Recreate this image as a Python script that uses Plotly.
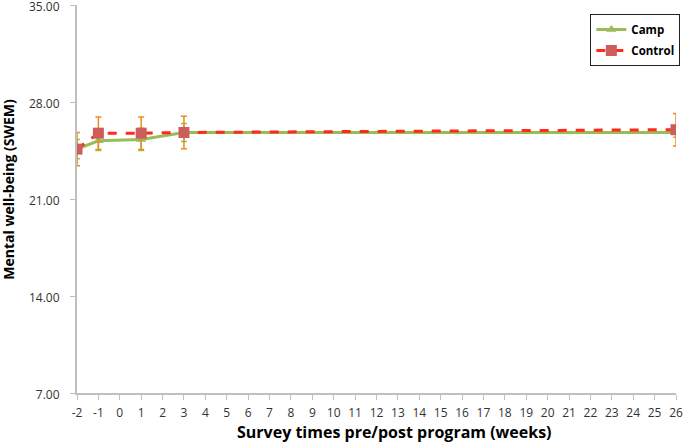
import plotly.graph_objects as go

# survey times (weeks) and SWEM means
weeks = [-2, -1, 1, 3, 26]
camp_mean = [24.6, 25.2, 25.3, 25.8, 25.8]
camp_err = [0.7, 0.7, 0.8, 0.65, 0.35]
control_mean = [24.6, 25.75, 25.75, 25.8, 26.0]
control_err = [1.2, 1.17, 1.17, 1.17, 1.17]

x_ticks = list(range(-2, 27))
y_ticks = [7, 14, 21, 28, 35]

X_TITLE = 'Survey times pre/post program (weeks)'
Y_TITLE = 'Mental well-being (SWEM)'

FONT = '"Open Sans", Lato, Arial, sans-serif'

fig = go.Figure()

fig.add_trace(go.Scatter(
    x=weeks, y=camp_mean, name='Camp', mode='lines+markers', legendgroup='camp',
    line=dict(color='#9BBB59', width=3),
    marker=dict(symbol='triangle-up', size=9, color='#9BBB59'),
    error_y=dict(type='data', array=camp_err, color='#9BBB59', thickness=1.5, width=3),
))
fig.add_trace(go.Scatter(
    x=weeks, y=control_mean, name='Control', mode='lines+markers', legendgroup='control',
    line=dict(color='#FF2A1A', width=3, dash='dash'),
    marker=dict(symbol='square', size=11, color='#CD5C5C'),
    error_y=dict(type='data', array=control_err, color='#F08A1C', thickness=1.5, width=3),
))

# axis titles as annotations: in the original they sit a bit off the plot centre
fig.add_annotation(text=X_TITLE, xref='paper', yref='paper', x=0.53, y=-0.1005,
                   xanchor='center', yanchor='middle', showarrow=False,
                   font=dict(family=FONT, size=16, color='black', weight='bold'))
fig.add_annotation(text=Y_TITLE, xref='paper', yref='paper', x=-0.114, y=0.526,
                   xanchor='center', yanchor='middle', showarrow=False, textangle=-90,
                   font=dict(family=FONT, size=14, color='black', weight='bold'))

fig.update_layout(
    width=685, height=443,
    margin=dict(l=77, r=6, t=5, b=50),
    paper_bgcolor='white', plot_bgcolor='white',
    font=dict(family=FONT, size=12, color='#333333'),
    legend=dict(
        x=0.857, y=0.977, xanchor='left', yanchor='top',
        bordercolor='#222222', borderwidth=1, bgcolor='white',
        font=dict(family=FONT, size=11.5, color='black', weight='bold'),
        tracegroupgap=2, itemwidth=30,
    ),
)
# automargin off: the template would otherwise grow the margins for the end labels
fig.update_xaxes(
    range=[-2, 26], tickvals=x_ticks, ticktext=[str(v) for v in x_ticks],
    showgrid=False, zeroline=False, showline=True, linecolor='#BFBFBF', linewidth=2,
    ticks='outside', ticklen=5, tickcolor='#BFBFBF', ticklabelstandoff=3,
    tickfont=dict(size=12, color='#333333'), ticklabeloverflow='allow', automargin=False,
)
fig.update_yaxes(
    range=[7, 35], tickvals=y_ticks, ticktext=['%.2f' % v for v in y_ticks],
    showgrid=False, zeroline=False, showline=True, linecolor='#BFBFBF', linewidth=2,
    ticks='outside', ticklen=5, tickcolor='#BFBFBF', ticklabelstandoff=8, ticklabelshift=2,
    tickfont=dict(size=12, color='#333333'), ticklabeloverflow='allow', automargin=False,
)

# drop the browser's default 8px body margin so the figure sits at the page corner
fig.write_html("out.html", config={'displayModeBar': False},
               post_script="document.body.style.margin = '0';")
